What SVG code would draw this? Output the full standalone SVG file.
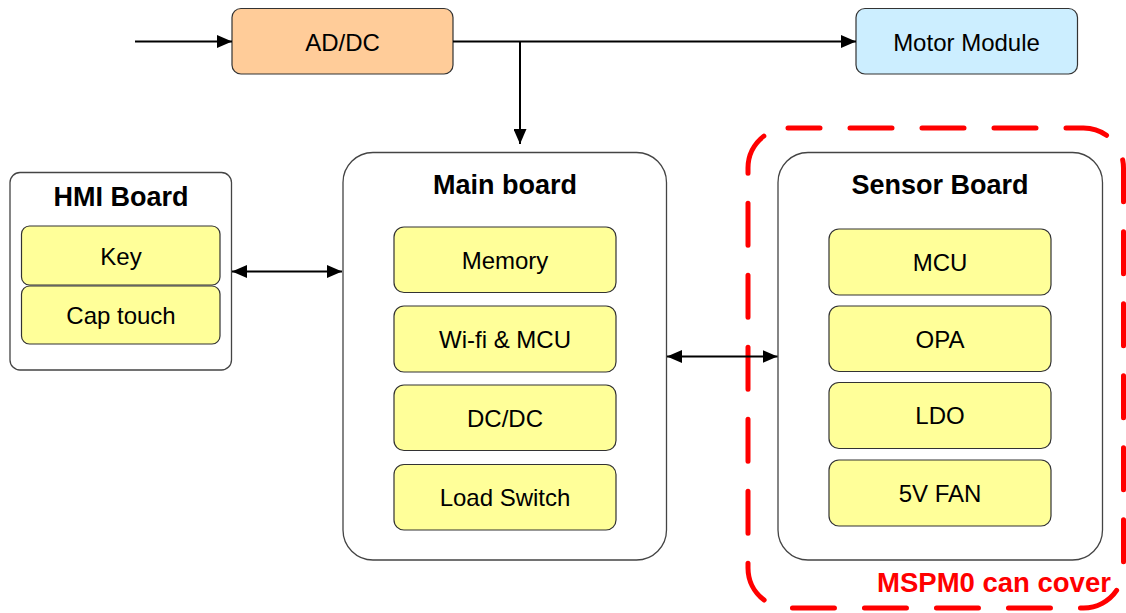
<svg xmlns="http://www.w3.org/2000/svg" width="1126" height="613" viewBox="0 0 1126 613">
  <style>
    .board { fill: #ffffff; stroke: #444444; stroke-width: 1.3; }
    .block { fill: #ffff99; stroke: #333333; stroke-width: 1.2; }
    .title { font-family: "Liberation Sans", Arial, sans-serif; font-weight: bold; font-size: 27px; fill: #000000; text-anchor: middle; dominant-baseline: central; }
    .label { font-family: "Liberation Sans", Arial, sans-serif; font-size: 24px; fill: #000000; text-anchor: middle; dominant-baseline: central; }
    .wire { fill: none; stroke: #000000; stroke-width: 2; }
  </style>
  <defs>
    <marker id="head" viewBox="0 0 15 13" refX="15" refY="6.5" markerWidth="15" markerHeight="13" markerUnits="userSpaceOnUse" orient="auto-start-reverse">
      <path d="M0,0 L15,6.5 L0,13 Z" fill="#000000"/>
    </marker>
  </defs>

  <rect width="1126" height="613" fill="#ffffff"/>

  <!-- power supply -->
  <g id="adc">
    <rect x="232" y="8.5" width="221" height="65.5" rx="9" fill="#ffcc99" stroke="#333333" stroke-width="1.2"/>
    <text class="label" x="342.5" y="42">AD/DC</text>
  </g>

  <!-- motor -->
  <g id="motor">
    <rect x="856" y="8.5" width="221.5" height="65.5" rx="9" fill="#cceeff" stroke="#333333" stroke-width="1.2"/>
    <text class="label" x="966.5" y="42">Motor Module</text>
  </g>

  <!-- HMI board -->
  <g id="hmi">
    <rect class="board" x="10" y="172.5" width="221.5" height="197.5" rx="10"/>
    <text class="title" x="121" y="197">HMI Board</text>
    <rect class="block" x="21.5" y="226" width="198.5" height="59" rx="8"/>
    <text class="label" x="121" y="256">Key</text>
    <rect class="block" x="21.5" y="286" width="198.5" height="58" rx="8"/>
    <text class="label" x="121" y="315">Cap touch</text>
  </g>

  <!-- main board -->
  <g id="main">
    <rect class="board" x="343" y="152.5" width="323.5" height="407.5" rx="30"/>
    <text class="title" x="505" y="185">Main board</text>
    <rect class="block" x="394" y="227" width="222" height="65.5" rx="10"/>
    <text class="label" x="505" y="260">Memory</text>
    <rect class="block" x="394" y="306" width="222" height="66" rx="10"/>
    <text class="label" x="505" y="339">Wi-fi &amp; MCU</text>
    <rect class="block" x="394" y="385" width="222" height="65.5" rx="10"/>
    <text class="label" x="505" y="418">DC/DC</text>
    <rect class="block" x="394" y="464.5" width="222" height="65.5" rx="10"/>
    <text class="label" x="505" y="497.5">Load Switch</text>
  </g>

  <!-- sensor board -->
  <g id="sensor">
    <rect class="board" x="778" y="152.5" width="324.5" height="407.5" rx="30"/>
    <text class="title" x="940" y="185">Sensor Board</text>
    <rect class="block" x="829" y="229" width="222" height="66" rx="10"/>
    <text class="label" x="940" y="262">MCU</text>
    <rect class="block" x="829" y="306" width="222" height="65.5" rx="10"/>
    <text class="label" x="940" y="339">OPA</text>
    <rect class="block" x="829" y="382.5" width="222" height="66" rx="10"/>
    <text class="label" x="940" y="415.5">LDO</text>
    <rect class="block" x="829" y="460" width="222" height="66" rx="10"/>
    <text class="label" x="940" y="493">5V FAN</text>
  </g>

  <!-- MSPM0 coverage outline -->
  <g id="coverage">
    <rect x="748" y="128" width="375.5" height="480" rx="40" fill="none" stroke="#ff0000" stroke-width="5" stroke-linecap="round" stroke-dasharray="42 30" stroke-dashoffset="10"/>
    <text x="994" y="582" font-family="'Liberation Sans', Arial, sans-serif" font-weight="bold" font-size="27.5px" fill="#ff0000" text-anchor="middle" dominant-baseline="central">MSPM0 can cover</text>
  </g>

  <!-- connectors -->
  <g id="connectors">
    <line class="wire" x1="135" y1="41.5" x2="232" y2="41.5" marker-end="url(#head)"/>
    <line class="wire" x1="453" y1="41.5" x2="856" y2="41.5" marker-end="url(#head)"/>
    <line class="wire" x1="520" y1="41.5" x2="520" y2="144" marker-end="url(#head)"/>
    <line class="wire" x1="232" y1="271.5" x2="342" y2="271.5" marker-start="url(#head)" marker-end="url(#head)"/>
    <line class="wire" x1="667" y1="356.5" x2="777.5" y2="356.5" marker-start="url(#head)" marker-end="url(#head)"/>
  </g>
</svg>
